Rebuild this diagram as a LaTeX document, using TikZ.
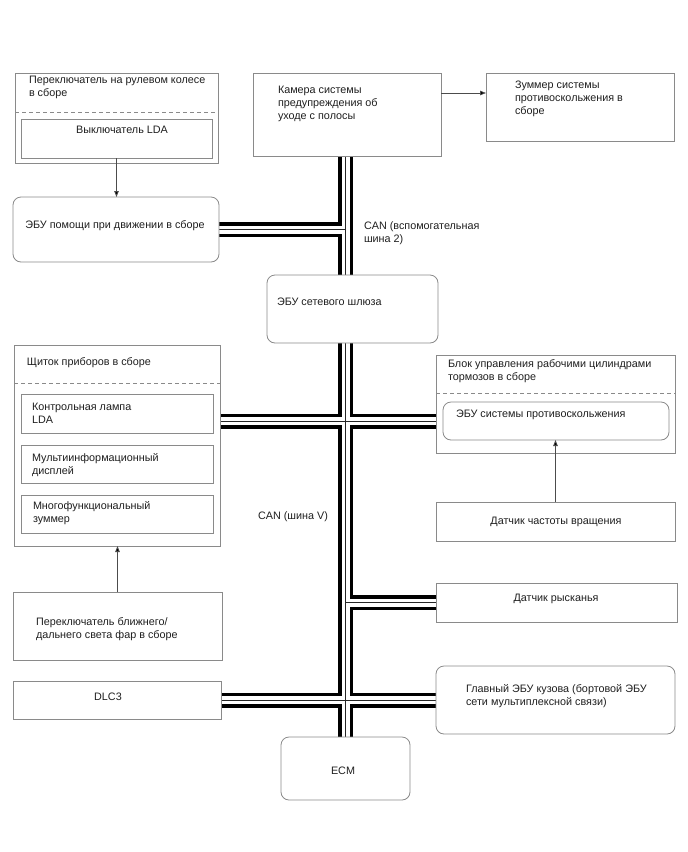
\documentclass[tikz,border=0pt]{standalone}
\usepackage{fontspec}
\setmainfont{Liberation Sans}
\usetikzlibrary{arrows.meta}
\pgfdeclarelayer{bg}
\pgfsetlayers{bg,main}
\definecolor{boxgray}{HTML}{8A8A8A}
\newcommand\busnet[1]{%
  \draw[#1] (cam.south -| bx) -- (ecm.north -| bx);
  \draw[#1] (assist.east) -- (assist.east -| bx);
  \draw[#1] (cl.east |- abs.west) -- (abs.west);
  \draw[#1] (yaw.west) -- (yaw.west -| bx);
  \draw[#1] (dlc.east) -- (bcm.west);
}
\begin{document}
\begin{tikzpicture}[x=1pt,y=-1pt,
  box/.style={draw=boxgray, line width=0.8pt, fill=white, inner sep=0pt, outer sep=0pt},
  rbox/.style={box, rounded corners=8pt},
  txt/.style={font=\fontsize{10.8}{13}\selectfont, inner sep=0pt, outer sep=0pt, align=left, text=black!88},
  sep/.style={draw=boxgray, line width=0.8pt, dash pattern=on 4pt off 3pt},
  arr/.style={draw=black!70, line width=0.8pt, -{Triangle[length=6pt,width=4.5pt,fill=black]}},
  busout/.style={line width=15pt, black},
  busin/.style={line width=8pt, white},
  busmid/.style={line width=0.9pt, black!85}]
\useasboundingbox (0,0) rectangle (688,852);
\coordinate (bx) at (345.5,0);

% boxes
\node[box, minimum width=203pt, minimum height=90pt] (sw) at (116.5,118) {};
\draw[sep] (sw.west |- 0,112) -- (sw.east |- 0,112);
\node[box, minimum width=191pt, minimum height=39pt] (swin) at (116.5,138.5) {};
\node[rbox, minimum width=206pt, minimum height=65pt] (assist) at (116,229.5) {};
\node[box, minimum width=188pt, minimum height=83pt] (cam) at (347,114.5) {};
\node[box, minimum width=188pt, minimum height=68pt] (buzz) at (580,107) {};
\node[rbox, minimum width=171pt, minimum height=68pt] (gw) at (352.5,309) {};
\node[box, minimum width=206pt, minimum height=201pt] (cl) at (117,445.5) {};
\draw[sep] (cl.west |- 0,383) -- (cl.east |- 0,383);
\node[box, minimum width=192pt, minimum height=39pt] (cl1) at (117,413.5) {};
\node[box, minimum width=192pt, minimum height=38pt] (cl2) at (117,464) {};
\node[box, minimum width=192pt, minimum height=38pt] (cl3) at (117,514) {};
\node[box, minimum width=239pt, minimum height=98pt] (br) at (555.5,404) {};
\draw[sep] (br.west |- 0,393) -- (br.east |- 0,393);
\node[rbox, minimum width=226pt, minimum height=38pt] (abs) at (556,421) {};
\node[box, minimum width=239pt, minimum height=39pt] (spd) at (555.5,521.5) {};
\node[box, minimum width=209pt, minimum height=68pt] (hl) at (117.5,626) {};
\node[box, minimum width=241pt, minimum height=39pt] (yaw) at (556.5,602.5) {};
\node[box, minimum width=208pt, minimum height=38pt] (dlc) at (117,700) {};
\node[rbox, minimum width=239pt, minimum height=68pt] (bcm) at (555.5,700) {};
\node[rbox, minimum width=129pt, minimum height=63pt] (ecm) at (345.5,768.5) {};

% texts
\node[txt, anchor=west] (tsw) at (29,87.5) {Переключатель на рулевом колесе\\в сборе};
\node[txt] (tswin) at (122,130) {Выключатель LDA};
\node[txt] (tas) at (115,226) {ЭБУ помощи при движении в сборе};
\node[txt, anchor=west] (tcam) at (278,104) {Камера системы\\предупреждения об\\уходе с полосы};
\node[txt, anchor=west] (tbuzz) at (515,99) {Зуммер системы\\противоскольжения в\\сборе};
\node[txt, anchor=west] (tcan2) at (364,233.5) {CAN (вспомогательная\\шина 2)};
\node[txt, anchor=west] (tgw) at (277,302) {ЭБУ сетевого шлюза};
\node[txt, anchor=west] (tcl) at (27,363) {Щиток приборов в сборе};
\node[txt, anchor=west] (tcl1) at (32,413) {Контрольная лампа\\LDA};
\node[txt, anchor=west] (tcl2) at (32,465) {Мультиинформационный\\дисплей};
\node[txt, anchor=west] (tcl3) at (33,513) {Многофункциональный\\зуммер};
\node[txt, anchor=west] (tcanv) at (258,517) {CAN (шина V)};
\node[txt, anchor=west] (tbr) at (448,371) {Блок управления рабочими цилиндрами\\тормозов в сборе};
\node[txt, anchor=west] (tabs) at (456,415) {ЭБУ системы противоскольжения};
\node[txt] (tspd) at (556,522) {Датчик частоты вращения};
\node[txt, anchor=west] (thl) at (36,629) {Переключатель ближнего/\\дальнего света фар в сборе};
\node[txt] (tyaw) at (556,599) {Датчик рысканья};
\node[txt] (tdlc) at (108,697) {DLC3};
\node[txt, anchor=west] (tbcm) at (466,696) {Главный ЭБУ кузова (бортовой ЭБУ\\сети мультиплексной связи)};
\node[txt] (tecm) at (343,771) {ECM};

% arrows
\draw[arr] (swin.south) -- (swin.south |- assist.north);
\draw[arr] ([yshift=-20pt]cam.north east) -- ([yshift=-20pt]buzz.north west);
\draw[arr] (spd.north) -- (spd.north |- abs.south);
\draw[arr] (hl.north) -- (hl.north |- cl.south);

% CAN bus
\begin{pgfonlayer}{bg}
\busnet{busout}
\busnet{busin}
\busnet{busmid}
\end{pgfonlayer}
\end{tikzpicture}
\end{document}
